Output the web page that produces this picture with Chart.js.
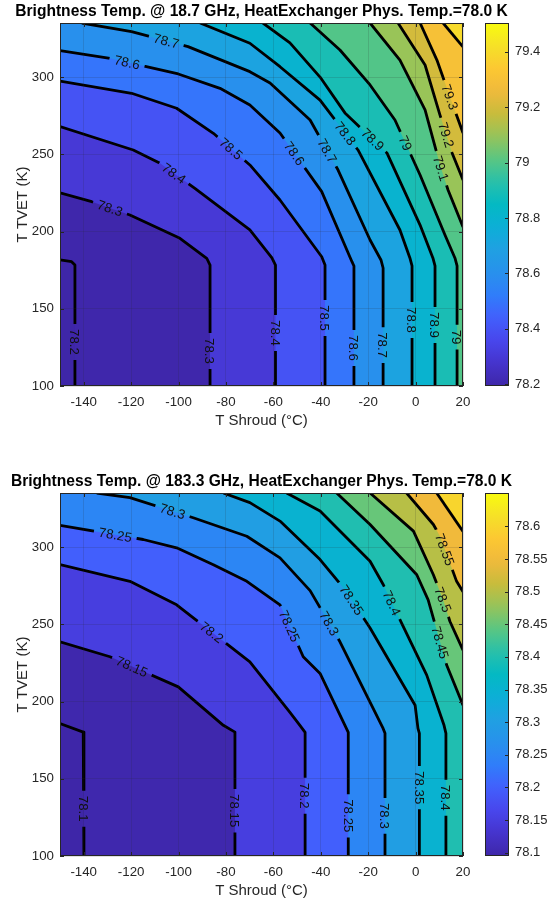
<!DOCTYPE html>
<html>
<head>
<meta charset="utf-8">
<script src="https://cdn.jsdelivr.net/npm/chart.js@4.4.0/dist/chart.umd.min.js"></script>
<style>
  html, body { margin: 0; padding: 0; background: #fff; overflow: hidden; width: 551px; height: 904px; }
  .plot { position: absolute; left: 0; width: 551px; height: 452px; }
</style>
</head>
<body>
<div class="plot" style="top:0px"><canvas id="chart18" width="551" height="452"></canvas></div>
<div class="plot" style="top:470px"><canvas id="chart183" width="551" height="452"></canvas></div>
<script>
// axes
const shroudTicks = [-140, -120, -100, -80, -60, -40, -20, 0, 20];
const tvetTicks = [100, 150, 200, 250, 300];
const shroudRange = [-150, 20];
const tvetRange = [100, 335];

// 18.7 GHz
const levels18 = [78.2, 78.3, 78.4, 78.5, 78.6, 78.7, 78.8, 78.9, 79, 79.1, 79.2, 79.3, 79.4];
const clim18 = [78.194, 79.504];
const cbTicks18 = [78.2, 78.4, 78.6, 78.8, 79, 79.2, 79.4];
const paths18 = [
  [[-150, 181.6], [-145.1, 180.5], [-143.7, 178.3], [-143.7, 100]],
  [[-150, 225.1], [-136.6, 219.3], [-120.5, 210.7], [-99.4, 195.6], [-88.1, 182.7], [-86.7, 178.3], [-86.7, 100]],
  [[-150, 267.9], [-119.1, 252.8], [-107.8, 244.2], [-93.1, 228.0], [-69.9, 201.0], [-60.6, 182.9], [-59.1, 178.3], [-59.1, 100]],
  [[-150, 297.4], [-119.8, 289.5], [-100.8, 279.8], [-85.3, 263.6], [-69.9, 243.1], [-57.2, 220.4], [-39.6, 183.7], [-38.2, 178.3], [-38.2, 100]],
  [[-150, 317.1], [-128.9, 312.1], [-100.1, 302.0], [-82.5, 292.7], [-69.9, 281.9], [-57.2, 263.8], [-39.6, 225.8], [-26.8, 180.3], [-26.0, 177.7], [-26.0, 100]],
  [[-140.8, 335], [-119.8, 329.4], [-96.0, 319.7], [-69.9, 303.5], [-61.4, 296.2], [-44.5, 272.2], [-32.7, 239.8], [-19.2, 194.5], [-14.6, 181.6], [-13.7, 176.4], [-13.7, 100]],
  [[-90.9, 335], [-69.9, 321.9], [-57.2, 306.7], [-40.3, 285.1], [-24.3, 252.8], [-6.6, 201.0], [-2.4, 182.9], [-1.5, 177.7], [-1.5, 100]],
  [[-64.4, 335], [-53.0, 322.1], [-40.3, 300.0], [-29.8, 276.8], [-12.1, 250.9], [1.9, 204.2], [7.3, 182.9], [8.2, 177.7], [8.2, 100]],
  [[-44.5, 335], [-31.9, 317.5], [-19.2, 294.9], [-8.7, 272.2], [1.9, 236.6], [12.4, 197.8], [16.6, 182.9], [17.5, 177.7], [17.5, 100]],
  [[-19.2, 335], [-6.6, 311.0], [4.0, 278.7], [10.3, 243.1], [13.7, 226.9], [20, 203.0]],
  [[-7.4, 335], [4.0, 307.8], [10.3, 275.4], [15.4, 250.9], [20, 233.4]],
  [[1.9, 335], [9.0, 311.0], [14.5, 287.1], [20, 263.8]],
  [[11.6, 335], [20, 319.5]]
];
const labels18 = [
  [78.7, -105.3, 322.7], [78.6, -121.7, 309.7], [78.5, -78.3, 252.8], [78.4, -101.5, 238.5],
  [78.3, -128.9, 215.2], [78.2, -143.7, 128.5], [78.3, -86.7, 122.7], [78.4, -59.1, 134.3],
  [78.5, -38.2, 144.0], [78.6, -26.0, 124.6], [78.7, -13.7, 126.5], [78.8, -1.5, 142.7],
  [78.9, 8.2, 139.5], [79, 17.5, 131.7], [78.6, -55.1, 246.3], [78.7, -38.2, 251.5],
  [78.8, -28.9, 264.4], [78.9, -16.3, 262.5], [79, -3.2, 258.0], [79.1, 11.1, 241.1],
  [79.2, 12.8, 262.5], [79.3, 14.5, 287.1]
];

// 183.3 GHz
const levels183 = [78.1, 78.15, 78.2, 78.25, 78.3, 78.35, 78.4, 78.45, 78.5, 78.55, 78.6];
const clim183 = [78.095, 78.651];
const cbTicks183 = [78.1, 78.15, 78.2, 78.25, 78.3, 78.35, 78.4, 78.45, 78.5, 78.55, 78.6];
const paths183 = [
  [[-150, 185.7], [-140.2, 180.2], [-139.9, 178.1], [-139.9, 100]],
  [[-150, 238.7], [-128.9, 229.0], [-100.1, 209.5], [-81.1, 184.6], [-76.2, 180.2], [-76.2, 100]],
  [[-150, 288.6], [-120.5, 277.8], [-100.8, 262.6], [-69.9, 225.7], [-53.0, 193.0], [-48.8, 184.6], [-46.6, 180.0], [-46.6, 100]],
  [[-150, 314.0], [-114.9, 304.9], [-100.8, 299.5], [-85.3, 288.6], [-71.2, 277.8], [-57.2, 262.6], [-47.4, 229.0], [-40.3, 218.2], [-29.8, 184.6], [-28.4, 180.0], [-28.4, 100]],
  [[-134.5, 335], [-120.5, 332.0], [-93.8, 319.0], [-71.2, 307.0], [-57.2, 293.0], [-44.5, 271.8], [-31.9, 238.7], [-13.7, 182.6], [-12.9, 179.4], [-12.9, 100]],
  [[-81.1, 335], [-69.9, 328.8], [-57.2, 316.8], [-40.3, 291.9], [-29.8, 272.4], [-19.2, 247.6], [-0.2, 197.6], [1.0, 182.6], [1.6, 179.4], [1.6, 100]],
  [[-54.4, 335], [-40.3, 323.3], [-19.2, 290.8], [-13.6, 275.6], [-5.9, 250.7], [4.7, 217.1], [12.0, 184.6], [12.8, 179.4], [12.8, 100]],
  [[-33.3, 335], [-19.2, 314.6], [0.5, 282.1], [5.3, 265.8], [13.1, 223.6], [20, 197.6]],
  [[-19.2, 335], [-0.9, 310.3], [7.5, 282.1], [11.6, 265.9], [14.5, 251.8], [20, 233.3]],
  [[-3.8, 335], [7.5, 314.6], [10.3, 307.0], [12.4, 298.4], [17.3, 277.8], [20, 271.1]],
  [[8.9, 335], [20, 310.1]]
];
const labels183 = [
  [78.1, -139.9, 130.6], [78.15, -76.2, 129.3], [78.2, -46.6, 139.0], [78.25, -28.4, 126.0],
  [78.3, -12.9, 126.0], [78.35, 1.6, 144.2], [78.4, 12.8, 137.7], [78.15, -120.0, 221.6],
  [78.2, -85.9, 245.0], [78.25, -126.8, 306.8], [78.3, -102.3, 324.4], [78.25, -55.1, 247.6],
  [78.3, -36.1, 250.9], [78.35, -26.8, 265.9], [78.4, -9.9, 263.9], [78.45, 9.5, 237.9],
  [78.5, 11.6, 265.9], [78.55, 12.4, 298.4]
];

// parula-like colormap
const parulaStops = [
  [0.000, 62, 38, 168], [0.063, 70, 52, 205], [0.125, 72, 70, 236], [0.188, 66, 95, 252],
  [0.250, 48, 125, 250], [0.313, 40, 145, 236], [0.375, 32, 160, 226], [0.438, 12, 175, 215],
  [0.500, 4, 185, 195], [0.563, 40, 192, 170], [0.625, 90, 198, 130], [0.688, 150, 196, 90],
  [0.750, 200, 188, 60], [0.813, 240, 185, 60], [0.875, 252, 200, 50], [0.938, 245, 225, 40],
  [1.000, 249, 251, 14]
];
function parula(t) {
  t = Math.max(0, Math.min(1, t));
  for (let i = 1; i < parulaStops.length; i++) {
    const a = parulaStops[i - 1], b = parulaStops[i];
    if (t <= b[0]) {
      const f = (t - a[0]) / (b[0] - a[0]);
      const c = [1, 2, 3].map(j => Math.round(a[j] + f * (b[j] - a[j])));
      return `rgb(${c[0]},${c[1]},${c[2]})`;
    }
  }
  return 'rgb(249,251,14)';
}

const AXIS_COLOR = '#262626';
const LABEL_FONT = '13.3px "Liberation Sans", Arial, sans-serif';

function toPx(chart, p) {
  return [chart.scales.x.getPixelForValue(p[0]), chart.scales.y.getPixelForValue(p[1])];
}

function placeLabels(chart, cfg) {
  const ctx = chart.ctx;
  ctx.save();
  ctx.font = LABEL_FONT;
  const out = cfg.labels.map(([lv, lx, ly]) => {
    const k = cfg.levels.indexOf(lv);
    const pts = cfg.paths[k].map(p => toPx(chart, p));
    const [qx, qy] = toPx(chart, [lx, ly]);
    let best = null;
    for (let i = 0; i < pts.length - 1; i++) {
      const [ax, ay] = pts[i];
      const [bx, by] = pts[i + 1];
      const dx = bx - ax, dy = by - ay;
      const len2 = dx * dx + dy * dy || 1;
      let t = ((qx - ax) * dx + (qy - ay) * dy) / len2;
      t = Math.max(0, Math.min(1, t));
      const cx = ax + t * dx, cy = ay + t * dy;
      const d = (qx - cx) ** 2 + (qy - cy) ** 2;
      if (!best || d < best.d) best = { d, cx, cy, ang: Math.atan2(dy, dx) };
    }
    let a = best.ang;
    if (a > Math.PI / 2 + 1e-6) a -= Math.PI;
    if (a < -Math.PI / 2 + 1e-6) a += Math.PI;
    const text = String(lv);
    return { k, x: best.cx, y: best.cy, a, text, w: ctx.measureText(text).width };
  });
  ctx.restore();
  return out;
}

function labelBox(ctx, l) {
  const hw = l.w / 2 + 5, hh = 8;
  const c = Math.cos(l.a), s = Math.sin(l.a);
  const pts = [[-hw, -hh], [hw, -hh], [hw, hh], [-hw, hh]].map(([u, v]) => [l.x + u * c - v * s, l.y + u * s + v * c]);
  ctx.moveTo(pts[0][0], pts[0][1]);
  for (let i = 1; i < 4; i++) ctx.lineTo(pts[i][0], pts[i][1]);
  ctx.closePath();
}

function contourPlugin(cfg) {
  return {
    id: 'contour',
    beforeDatasetsDraw(chart) {
      chart.$labels = placeLabels(chart, cfg);
    },
    beforeDatasetDraw(chart, args) {
      const ds = chart.data.datasets[args.index];
      if (ds.lineOf === undefined) return;
      const ctx = chart.ctx;
      ctx.save();
      ctx.beginPath();
      ctx.rect(0, 0, chart.width, chart.height);
      chart.$labels.filter(l => l.k === ds.lineOf).forEach(l => labelBox(ctx, l));
      ctx.clip('evenodd');
    },
    afterDatasetDraw(chart, args) {
      const ds = chart.data.datasets[args.index];
      if (ds.lineOf === undefined) return;
      chart.ctx.restore();
    },
    afterDatasetsDraw(chart) {
      const ctx = chart.ctx;
      ctx.save();
      ctx.font = LABEL_FONT;
      ctx.fillStyle = '#111';
      ctx.textAlign = 'center';
      ctx.textBaseline = 'middle';
      chart.$labels.forEach(l => {
        ctx.save();
        ctx.translate(l.x, l.y);
        ctx.rotate(l.a);
        ctx.fillText(l.text, 0, 1);
        ctx.restore();
      });
      ctx.restore();
    },
    afterDraw(chart) {
      const ctx = chart.ctx;
      const a = chart.chartArea;
      const xs = chart.scales.x, ys = chart.scales.y, cb = chart.scales.cb;
      ctx.save();
      // box and inward ticks
      ctx.strokeStyle = AXIS_COLOR;
      ctx.lineWidth = 1;
      ctx.strokeRect(a.left + 0.5, a.top + 0.5, a.right - a.left - 1, a.bottom - a.top - 1);
      ctx.beginPath();
      shroudTicks.forEach(v => {
        const x = Math.round(xs.getPixelForValue(v)) + 0.5;
        ctx.moveTo(x, a.bottom); ctx.lineTo(x, a.bottom - 4);
        ctx.moveTo(x, a.top); ctx.lineTo(x, a.top + 4);
      });
      tvetTicks.forEach(v => {
        const y = Math.round(ys.getPixelForValue(v)) + 0.5;
        ctx.moveTo(a.left, y); ctx.lineTo(a.left + 4, y);
        ctx.moveTo(a.right, y); ctx.lineTo(a.right - 4, y);
      });
      ctx.stroke();
      // colour bar
      const bx = a.right + 22, bw = 24;
      const top = cb.getPixelForValue(cfg.clim[1]), bot = cb.getPixelForValue(cfg.clim[0]);
      const g = ctx.createLinearGradient(0, bot, 0, top);
      for (let i = 0; i <= 40; i++) g.addColorStop(i / 40, parula(i / 40));
      ctx.fillStyle = g;
      ctx.fillRect(bx, top, bw, bot - top);
      ctx.strokeRect(bx + 0.5, top + 0.5, bw - 1, bot - top - 1);
      ctx.beginPath();
      cfg.cbTicks.forEach(v => {
        const y = Math.round(cb.getPixelForValue(v)) + 0.5;
        ctx.moveTo(bx + bw, y); ctx.lineTo(bx + bw - 4, y);
      });
      ctx.stroke();
      // title
      ctx.fillStyle = '#000';
      ctx.font = 'bold 15.6px "Liberation Sans", Arial, sans-serif';
      ctx.textAlign = 'center';
      ctx.textBaseline = 'middle';
      ctx.fillText(cfg.title, (a.left + a.right) / 2, 12);
      ctx.restore();
    }
  };
}

function buildDatasets(cfg) {
  const span = cfg.clim[1] - cfg.clim[0];
  const sets = [];
  sets.push({
    data: [{ x: shroudRange[0], y: tvetRange[0] }, { x: shroudRange[1], y: tvetRange[0] }],
    showLine: true, fill: 'end', backgroundColor: parula(0), borderWidth: 0,
    borderColor: 'rgba(0,0,0,0)', pointRadius: 0, order: 10000, clip: 0
  });
  cfg.levels.forEach((lv, k) => {
    const pts = cfg.paths[k].map(p => ({ x: p[0], y: p[1] }));
    const last = pts[pts.length - 1];
    if (last.y === tvetRange[0] && last.x < shroudRange[1]) pts.push({ x: shroudRange[1], y: tvetRange[0] });
    sets.push({
      data: pts, showLine: true, fill: 'end',
      backgroundColor: parula((lv - cfg.clim[0]) / span),
      borderWidth: 0, borderColor: 'rgba(0,0,0,0)', pointRadius: 0,
      order: 5000 - k, clip: 0
    });
  });
  cfg.levels.forEach((lv, k) => {
    sets.push({
      data: cfg.paths[k].map(p => ({ x: p[0], y: p[1] })),
      showLine: true, fill: false, borderColor: '#000', borderWidth: 2.8,
      pointRadius: 0, order: 100 - k, clip: 0, lineOf: k,
      borderCapStyle: 'butt', borderJoinStyle: 'round'
    });
  });
  return sets;
}

function makeChart(id, cfg) {
  const tickFont = { family: '"Liberation Sans", Arial, sans-serif', size: 13.3 };
  const titleFont = { family: '"Liberation Sans", Arial, sans-serif', size: 15 };
  return new Chart(document.getElementById(id), {
    type: 'scatter',
    data: { datasets: buildDatasets(cfg) },
    options: {
      responsive: false,
      animation: false,
      events: [],
      layout: { padding: { top: 23, left: 0, right: 0, bottom: 0 } },
      plugins: { legend: { display: false }, tooltip: { enabled: false } },
      scales: {
        x: {
          type: 'linear', min: shroudRange[0], max: shroudRange[1],
          afterBuildTicks: s => { s.ticks = shroudTicks.map(v => ({ value: v })); },
          afterFit: s => { s.height = 66; },
          grid: { color: 'rgba(38,38,38,0.15)', drawTicks: false, z: 1 },
          border: { display: false },
          ticks: { color: AXIS_COLOR, font: tickFont, padding: 8, maxRotation: 0, autoSkip: false },
          title: { display: true, text: 'T Shroud (°C)', color: AXIS_COLOR, font: titleFont, padding: { top: 0, bottom: 22 } }
        },
        y: {
          type: 'linear', position: 'left', min: tvetRange[0], max: tvetRange[1],
          afterBuildTicks: s => { s.ticks = tvetTicks.map(v => ({ value: v })); },
          afterFit: s => { s.width = 60; },
          grid: { color: 'rgba(38,38,38,0.15)', drawTicks: false, z: 1 },
          border: { display: false },
          ticks: { color: AXIS_COLOR, font: tickFont, padding: 6, autoSkip: false },
          title: { display: true, text: 'T TVET (K)', color: AXIS_COLOR, font: titleFont, padding: { top: 14, bottom: 0 } }
        },
        cb: {
          type: 'linear', position: 'right', min: cfg.clim[0], max: cfg.clim[1],
          afterBuildTicks: s => { s.ticks = cfg.cbTicks.map(v => ({ value: v })); },
          afterFit: s => { s.width = 88; },
          grid: { display: false, drawTicks: true, tickLength: 46 },
          border: { display: false },
          ticks: { color: AXIS_COLOR, font: { family: '"Liberation Sans", Arial, sans-serif', size: 13 }, padding: 6, autoSkip: false,
                   callback: v => String(v) }
        }
      }
    },
    plugins: [contourPlugin(cfg)]
  });
}

makeChart('chart18', {
  title: 'Brightness Temp. @ 18.7 GHz, HeatExchanger Phys. Temp.=78.0 K',
  levels: levels18, paths: paths18, labels: labels18, clim: clim18, cbTicks: cbTicks18
});
makeChart('chart183', {
  title: 'Brightness Temp. @ 183.3 GHz, HeatExchanger Phys. Temp.=78.0 K',
  levels: levels183, paths: paths183, labels: labels183, clim: clim183, cbTicks: cbTicks183
});
</script>
</body>
</html>
